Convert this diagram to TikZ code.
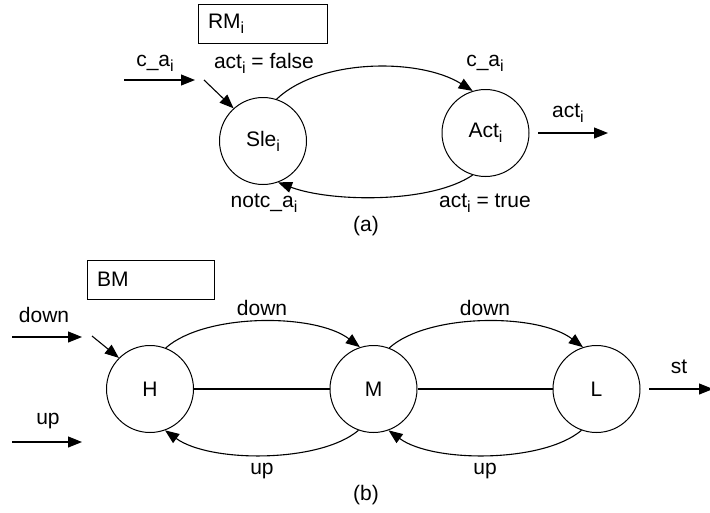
\documentclass[tikz,border=0pt]{standalone}
\usepackage{fontspec}
\setmainfont{Liberation Sans}
\usetikzlibrary{arrows.meta}
% lowered, slightly smaller index letter
\newcommand{\sub}[1]{\raisebox{-0.45ex}{\fontsize{16}{16}\selectfont #1}}
\tikzset{
  every node/.style={font=\fontsize{21}{23}\selectfont, inner sep=0pt},
  state/.style={circle, draw, line width=1pt, minimum size=87pt},
  titlebox/.style={draw, line width=1pt, minimum height=39pt, inner xsep=10pt, align=left},
  conn/.style={line width=1.1pt, -{Triangle[length=14pt,width=11pt]}},
  plain/.style={line width=1.1pt},
}
\begin{document}
\begin{tikzpicture}[x=1pt,y=-1pt]
\useasboundingbox (0,0) rectangle (710,512);

% ---- (a) resource manager ----
\node[titlebox, text width=109pt] (rm) at (262.5,23.5) {RM\sub{i}};
\node[state] (sle) at (263,141) {Sle\sub{i}};
\node[state] (act) at (485.5,133) {Act\sub{i}};

\coordinate (cain0) at (124,80);
\coordinate (cain1) at (195,80);
\coordinate (slein) at (204,80);
\coordinate (actout0) at (538,133);
\coordinate (actout1) at (608,133);

\draw[conn] (cain0) -- (cain1);
\draw[conn] (slein) -- (sle.132);
\draw[conn] (actout0) -- (actout1);
\draw[conn] (sle.72) .. controls (320,58) and (420,58) .. (act.107);
\draw[conn] (act.-107) .. controls (430,204) and (330,202) .. (sle.-70);

\node (l1) at (155,63) {c\_a\sub{i}};
\node (l2) at (264,63) {act\sub{i} = false};
\node (l3) at (485,63) {c\_a\sub{i}};
\node (l4) at (568,113) {act\sub{i}};
\node (l5) at (264,203) {notc\_a\sub{i}};
\node (l6) at (485,203) {act\sub{i} = true};
\node (capa) at (366,226) {(a)};

% ---- (b) buffer manager ----
\node[titlebox, text width=107pt] (bm) at (150.5,279.5) {BM};
\node[state] (h) at (150,389) {H};
\node[state] (m) at (373.5,389) {M};
\node[state] (l) at (596.5,389) {L};

\coordinate (dn0) at (12,337);
\coordinate (dn1) at (82,337);
\coordinate (hin) at (92,336);
\coordinate (up0) at (12,442);
\coordinate (up1) at (82,442);
\coordinate (st0) at (649,389);
\coordinate (st1) at (713,389);

\draw[conn] (dn0) -- (dn1);
\draw[conn] (hin) -- (h.135);
\draw[conn] (up0) -- (up1);
\draw[conn] (st0) -- (st1);

\draw[plain] (h) -- (m);
\draw[plain] (m) -- (l);

\draw[conn] (h.69) .. controls (205,313) and (315,313) .. (m.108);
\draw[conn] (m.69) .. controls (428,313) and (538,313) .. (l.108);
\draw[conn] (m.-110) .. controls (320,463) and (210,463) .. (h.-70);
\draw[conn] (l.-110) .. controls (543,463) and (433,463) .. (m.-70);

\node (b1) at (44,315) {down};
\node (b2) at (48,421) {up};
\node (b3) at (262,308) {down};
\node (b4) at (485,308) {down};
\node (b5) at (262,471) {up};
\node (b6) at (485,471) {up};
\node (b7) at (679,367) {st};
\node (capb) at (366,495) {(b)};
\end{tikzpicture}
\end{document}
